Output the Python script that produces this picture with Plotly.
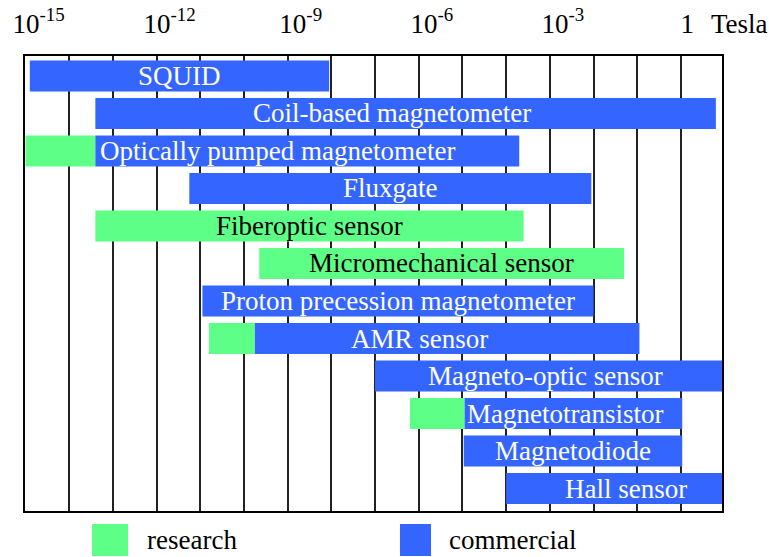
import plotly.graph_objects as go

# Magnetic sensor detection ranges, in log10(field / Tesla)
sensors = [
    "SQUID",
    "Coil-based magnetometer",
    "Optically pumped magnetometer",
    "Fluxgate",
    "Fiberoptic sensor",
    "Micromechanical sensor",
    "Proton precession magnetometer",
    "AMR sensor",
    "Magneto-optic sensor",
    "Magnetotransistor",
    "Magnetodiode",
    "Hall sensor",
]
research_lo = [None, None, -15.3, None, -13.7, -9.95, None, -11.1, None, -6.5, None, None]
research_hi = [None, None, -13.7, None, -3.9, -1.6, None, -10.05, None, -5.25, None, None]
commercial_lo = [-15.2, -13.7, -13.7, -11.55, None, None, -11.25, -10.05, -7.3, -5.25, -5.27, -4.3]
commercial_hi = [-8.35, 0.5, -4.0, -2.35, None, None, -2.3, -1.25, 0.65, -0.27, -0.27, 0.65]

tick_decades = [-15, -12, -9, -6, -3, 0]
tick_labels = ["10<sup>-15</sup>", "10<sup>-12</sup>", "10<sup>-9</sup>",
               "10<sup>-6</sup>", "10<sup>-3</sup>", "1\u00a0\u00a0"]

# layout tweaks: label nudges (decades) relative to the centre of the labelled segment
label_shift = [0, -0.32, -0.69, 0, 0, 0, 0, -0.63, -0.07, -0.19, 0, 0.26]

GREEN = "#5EFF86"
BLUE = "#3466FF"
FONT = "Liberation Serif"
FS = 27
X_RANGE = [-15.31, 0.64]
grid_positions = [-14.3 + k for k in range(15)]

fig = go.Figure()

ri = [i for i in range(len(sensors)) if research_lo[i] is not None]
fig.add_trace(go.Bar(
    orientation="h",
    y=ri,
    base=[research_lo[i] for i in ri],
    x=[research_hi[i] - research_lo[i] for i in ri],
    marker=dict(color=GREEN, line=dict(width=0)),
    width=0.83,
    name="research",
    hoverinfo="skip",
))
ci = [i for i in range(len(sensors)) if commercial_lo[i] is not None]
fig.add_trace(go.Bar(
    orientation="h",
    y=ci,
    base=[commercial_lo[i] for i in ci],
    x=[commercial_hi[i] - commercial_lo[i] for i in ci],
    marker=dict(color=BLUE, line=dict(width=0)),
    width=0.83,
    name="commercial",
    hoverinfo="skip",
))

# invisible trace that carries the top (decade) axis
fig.add_trace(go.Scatter(x=X_RANGE, y=[0, 0], xaxis="x2", mode="markers",
                         marker=dict(opacity=0), hoverinfo="skip", showlegend=False))

annotations = []
for i, name in enumerate(sensors):
    if commercial_lo[i] is not None:
        lo, hi, color = commercial_lo[i], commercial_hi[i], "white"
    else:
        lo, hi, color = research_lo[i], research_hi[i], "black"
    annotations.append(dict(
        x=(lo + hi) / 2 + label_shift[i], y=i, xref="x", yref="y",
        text=name, showarrow=False, xanchor="center", yanchor="middle",
        font=dict(family=FONT, size=FS, color=color),
    ))

annotations.append(dict(x=0.982, y=1.071, xref="paper", yref="paper", text="Tesla",
                        showarrow=False, xanchor="left", yanchor="middle",
                        font=dict(family=FONT, size=FS, color="black")))

# legend swatches and labels below the plot
legend_items = [("research", GREEN, 0.0961, 0.1478, 0.1722),
                ("commercial", BLUE, 0.538, 0.5825, 0.6055)]
shapes = []
for label, color, x0, x1, xt in legend_items:
    shapes.append(dict(type="rect", xref="paper", yref="paper", x0=x0, x1=x1,
                       y0=-0.0989, y1=-0.0286, fillcolor=color, line=dict(width=0)))
    annotations.append(dict(x=xt, y=-0.064, xref="paper", yref="paper", text=label,
                            showarrow=False, xanchor="left", yanchor="middle",
                            font=dict(family=FONT, size=FS, color="black")))

fig.update_layout(
    width=769, height=557,
    margin=dict(l=25, r=47, t=56, b=46, autoexpand=False),
    barmode="overlay",
    showlegend=False,
    plot_bgcolor="white",
    paper_bgcolor="white",
    font=dict(family=FONT, size=FS, color="black"),
    xaxis=dict(
        range=X_RANGE, tickvals=grid_positions, showticklabels=False,
        showgrid=True, gridcolor="#222222", gridwidth=1.6,
        showline=True, linecolor="black", linewidth=2, mirror=True,
        ticks="", zeroline=False, automargin=False,
    ),
    xaxis2=dict(
        range=X_RANGE, overlaying="x", side="top", tickvals=tick_decades,
        ticktext=tick_labels, showgrid=False, showline=False, ticks="",
        zeroline=False, tickfont=dict(family=FONT, size=FS, color="black"),
        ticklabelstandoff=17, automargin=False,
    ),
    yaxis=dict(
        range=[11.6, -0.533], showticklabels=False, showgrid=False,
        showline=True, linecolor="black", linewidth=2, mirror=True,
        ticks="", zeroline=False, automargin=False,
    ),
    annotations=annotations,
    shapes=shapes,
)

fig.write_html("out.html")
